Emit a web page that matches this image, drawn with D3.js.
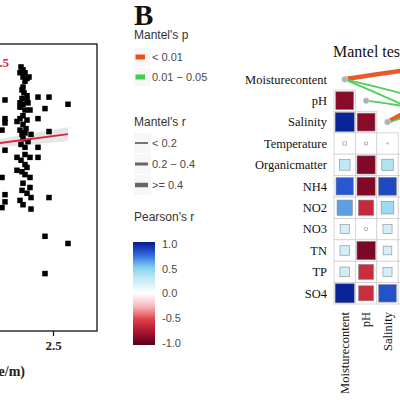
<!DOCTYPE html>
<html><head><meta charset="utf-8">
<script src="https://cdn.jsdelivr.net/npm/d3@7"></script>
<style>body{margin:0;background:#fff}svg{display:block}</style>
</head><body>
<svg id="c" width="400" height="400"></svg>
<script>
// ---------- Panel A data ----------
const scatterX = [2.34,2.35,2.335,2.36,2.35,2.37,2.38,2.36,2.35,2.345,2.355,2.37,2.345,2.37,2.335,2.35,2.375,2.335,2.36,2.385,2.35,2.37,2.35,2.335,2.36,2.345,2.35,2.375,2.36,2.36,2.385,2.36,2.345,2.36,2.385,2.35,2.385,2.345,2.37,2.39,2.35,2.39,2.32,2.32,
  2.26,2.425,2.48,2.46,2.575,2.26,2.26,2.32,2.425,2.245,2.48,2.39,2.26,2.425,2.425,2.245,2.48,2.26,2.26,2.245,2.46,2.575,2.46,
  2.335,2.365,2.34,2.34,2.37,2.335];
const scatterY = [0.92,0.91,0.90,0.90,0.885,0.88,0.885,0.87,0.85,0.84,0.83,0.82,0.81,0.805,0.795,0.79,0.795,0.78,0.77,0.77,0.75,0.735,0.72,0.70,0.69,0.685,0.67,0.66,0.64,0.615,0.605,0.58,0.555,0.545,0.535,0.515,0.50,0.49,0.48,0.465,0.44,0.425,0.605,0.56,
  0.805,0.815,0.815,0.775,0.79,0.74,0.725,0.73,0.74,0.70,0.695,0.685,0.63,0.64,0.605,0.535,0.465,0.475,0.45,0.43,0.33,0.305,0.20,
  0.74,0.705,0.65,0.595,0.57,0.455];
const fitX = [1.2, 2.575];
const fitY = [0.561, 0.686];
const bandX = [1.2, 1.9, 2.235, 2.4, 2.575];
const bandLo = [0.50, 0.60, 0.641, 0.650, 0.662];
const bandHi = [0.62, 0.64, 0.669, 0.690, 0.710];
const xTicks = [1.5, 2.0, 2.5];

// ---------- Panel B data ----------
const vars = ["Moisturecontent","pH","Salinity","Temperature","Organicmatter","NH4","NO2","NO3","TN","TP","SO4"];
const rMoisture = [-0.85, 0.97, -0.03, 0.30, 0.80, 0.62, 0.22, 0.24, 0.25, 0.97]; // rows pH..SO4
const rPH = [-0.85, -0.02, -0.88, -0.88, -0.62, -0.02, -0.90, -0.60, -0.60];       // rows Salinity..SO4
const rSalinity = [0.003, 0.35, 0.85, 0.42, 0.22, 0.20, 0.22, 0.82];              // rows Temperature..SO4
const groups = ["Group1","Group2","Group3","Group4"];
const mantelEnv = ["Moisturecontent","Moisturecontent","Moisturecontent","pH","Salinity","Salinity"];
const mantelSpec = ["Group1","Group3","Group4","Group3","Group1","Group2"];
const mantelP = ["< 0.01","0.01 - 0.05","0.01 - 0.05","0.01 - 0.05","< 0.01","0.01 - 0.05"];
const mantelR = [">= 0.4","< 0.2","< 0.2","< 0.2",">= 0.4","< 0.2"];
const pLevels = ["< 0.01","0.01 - 0.05"];
const pLabels = ["< 0.01","0.01 \u2212 0.05"];
const rLevels = ["< 0.2","0.2 - 0.4",">= 0.4"];
const rLabels = ["< 0.2","0.2 \u2212 0.4",">= 0.4"];
const cbTicks = [1.0, 0.5, 0.0, -0.5, -1.0];

const serif = "'Liberation Serif','Times New Roman',serif";
const sans = "'Liberation Sans',Arial,sans-serif";
const svg = d3.select("#c");

// ================= Panel A =================
const xA = d3.scaleLinear().domain([1.135, 2.72]).range([-220, 97]);
const yA = d3.scaleLinear().domain([0, 1]).range([331, 44]);
const gA = svg.append("g");
gA.append("path")
  .datum(bandX.map((x,i)=>({x, lo: bandLo[i], hi: bandHi[i]})))
  .attr("d", d3.area().x(d=>xA(d.x)).y0(d=>yA(d.lo)).y1(d=>yA(d.hi)))
  .attr("fill", "#dcdcdc").attr("opacity", 0.7);
const ps = 5.5;
gA.selectAll("rect.pt").data(scatterX.map((x,i)=>({x, y: scatterY[i]}))).join("rect")
  .attr("class","pt")
  .attr("x", d=>xA(d.x)-ps/2).attr("y", d=>yA(d.y)-ps/2)
  .attr("width", ps).attr("height", ps).attr("fill", "#000");
gA.append("path").datum(fitX.map((x,i)=>({x, y: fitY[i]})))
  .attr("d", d3.line().x(d=>xA(d.x)).y(d=>yA(d.y)))
  .attr("stroke", "#d6263f").attr("stroke-width", 2).attr("fill", "none");
gA.append("rect").attr("x", xA.range()[0]).attr("y", yA.range()[1])
  .attr("width", xA.range()[1]-xA.range()[0]).attr("height", yA.range()[0]-yA.range()[1])
  .attr("fill","none").attr("stroke","#111").attr("stroke-width",1.3);
const axA = gA.append("g").attr("transform", "translate(0,331)")
  .call(d3.axisBottom(xA).tickValues(xTicks).tickSize(5).tickPadding(5).tickFormat(d3.format(".1f")));
axA.select(".domain").remove();
axA.selectAll("line").attr("stroke","#111").attr("stroke-width",1.2);
axA.selectAll("text").attr("font-family", serif).attr("font-size", 13).attr("font-weight","bold").attr("fill","#222");
gA.append("text").attr("x", 25).attr("y", 376).attr("text-anchor","end")
  .attr("font-family", serif).attr("font-size", 14).attr("font-weight","bold").attr("fill","#222")
  .text("Distance (Scale/m)");
gA.append("text").attr("x", 9).attr("y", 67).attr("text-anchor","end")
  .attr("font-family", serif).attr("font-size", 13).attr("font-weight","bold").attr("fill","#d6263f")
  .text("r = 0.12, P = 0.5");

// ================= Panel B =================
svg.append("text").attr("x", 134).attr("y", 25).attr("font-family", serif)
  .attr("font-size", 29).attr("font-weight","bold").attr("fill","#111").text("B");

const color = d3.scaleLinear()
  .domain([-1,-0.75,-0.5,-0.25,0,0.25,0.5,0.75,1])
  .range(["#5a0020","#a8132c","#e0404a","#f7b9bd","#ffffff","#cdeef7","#86d2ec","#2f68e2","#061a8e"]);

const cell = 21.4;
const xB = d3.scaleBand().domain(vars).range([334, 334 + cell*vars.length]);
const yB = d3.scaleBand().domain(vars).range([68.6, 68.6 + cell*vars.length]);
const sizeS = d3.scaleSqrt().domain([0,1]).range([0, cell-2]);
const gB = svg.append("g");

// grid
const gridCells = [];
vars.forEach((rv, i) => vars.forEach((cv, j) => { if (i > j) gridCells.push({rv, cv}); }));
gB.selectAll("rect.grid").data(gridCells).join("rect").attr("class","grid")
  .attr("x", d=>xB(d.cv)).attr("y", d=>yB(d.rv)).attr("width", cell).attr("height", cell)
  .attr("fill","#fff").attr("stroke","#cfcfcf").attr("stroke-width",0.8);

// squares
const colData = [["Moisturecontent", rMoisture], ["pH", rPH], ["Salinity", rSalinity]];
const squares = [];
colData.forEach(([cv, arr]) => {
  const start = vars.indexOf(cv) + 1;
  arr.forEach((r, k) => squares.push({cv, rv: vars[start + k], r}));
});
gB.selectAll("rect.sq").data(squares).join("rect").attr("class","sq")
  .attr("x", d=>xB(d.cv)+cell/2-sizeS(Math.abs(d.r))/2)
  .attr("y", d=>yB(d.rv)+cell/2-sizeS(Math.abs(d.r))/2)
  .attr("width", d=>sizeS(Math.abs(d.r))).attr("height", d=>sizeS(Math.abs(d.r)))
  .attr("fill", d=>color(d.r)).attr("stroke","#8a8a8a").attr("stroke-width",0.6);

// labels
gB.selectAll("text.rl").data(vars).join("text").attr("class","rl")
  .attr("x", 327).attr("y", d=>yB(d)+cell/2).attr("dy","0.35em").attr("text-anchor","end")
  .attr("font-family", serif).attr("font-size", 12.5).attr("fill","#111").text(d=>d);
gB.selectAll("text.cl").data(vars.slice(0, -1)).join("text").attr("class","cl")
  .attr("transform", d=>`translate(${xB(d)+cell/2+4},${yB.range()[1]+8}) rotate(-90)`)
  .attr("text-anchor","end")
  .attr("font-family", serif).attr("font-size", 12.5).attr("fill","#111").text(d=>d);

// Mantel title
gB.append("text").attr("x", 333).attr("y", 57).attr("font-family", serif)
  .attr("font-size", 16).attr("fill","#111").text("Mantel test");

// links
const pColor = d3.scaleOrdinal().domain(pLevels).range(["#e5531a","#3fcf50"]);
const rWidth = d3.scaleOrdinal().domain(rLevels).range([1.8, 3, 4.5]);
const gY = d3.scalePoint().domain(groups).range([60, 165]);
const gX = 520;
const links = mantelEnv.map((e,i)=>({e, s: mantelSpec[i], p: mantelP[i], r: mantelR[i]}));
const curv = 0.03;
gB.selectAll("path.lk").data(links).join("path").attr("class","lk")
  .attr("d", d => {
    const x0 = xB(d.e)+cell/2, y0 = yB(d.e)+cell/2, x1 = gX, y1 = gY(d.s);
    const mx = (x0+x1)/2, my = (y0+y1)/2, dx = x1-x0, dy = y1-y0;
    const cx = mx + dy*curv, cy = my - dx*curv;
    return `M${x0},${y0}Q${cx},${cy} ${x1},${y1}`;
  })
  .attr("fill","none").attr("stroke", d=>pColor(d.p)).attr("stroke-width", d=>rWidth(d.r))
  .attr("stroke-linecap","round").attr("opacity",0.95);

// nodes
const nodeVars = [...new Set(mantelEnv)];
gB.selectAll("circle.nd").data(nodeVars).join("circle").attr("class","nd")
  .attr("cx", d=>xB(d)+cell/2).attr("cy", d=>yB(d)+cell/2).attr("r", 3)
  .attr("fill","#b0b0b0").attr("stroke","#d8d8d8").attr("stroke-width",0.8);

// ---------- Legends ----------
const lg = svg.append("g");
const legTitle = (y, t) => lg.append("text").attr("x", 134).attr("y", y).attr("font-family", sans)
  .attr("font-size", 12).attr("fill","#333").text(t);
legTitle(39, "Mantel's p");
pLevels.forEach((p, i) => {
  const cy = 57 + i*20;
  lg.append("rect").attr("x", 134).attr("y", cy-9).attr("width", 17).attr("height", 18).attr("fill","#f7f7f7");
  lg.append("rect").attr("x", 135.5).attr("y", cy-2.5).attr("width", 9.5).attr("height", 5).attr("fill", pColor(p));
  lg.append("text").attr("x", 152).attr("y", cy).attr("dy","0.35em").attr("font-family", sans)
    .attr("font-size", 11).attr("fill","#4a4a4a").text(pLabels[i]);
});
legTitle(126, "Mantel's r");
rLevels.forEach((r, i) => {
  const cy = 143 + i*21;
  lg.append("rect").attr("x", 134).attr("y", cy-10).attr("width", 17).attr("height", 20).attr("fill","#f7f7f7");
  lg.append("line").attr("x1", 135).attr("x2", 148).attr("y1", cy).attr("y2", cy)
    .attr("stroke","#666").attr("stroke-width", rWidth(r));
  lg.append("text").attr("x", 152).attr("y", cy).attr("dy","0.35em").attr("font-family", sans)
    .attr("font-size", 11).attr("fill","#4a4a4a").text(rLabels[i]);
});
legTitle(221, "Pearson's r");
const defs = svg.append("defs");
const grad = defs.append("linearGradient").attr("id","cbg").attr("x1",0).attr("x2",0).attr("y1",0).attr("y2",1);
d3.range(0, 1.0001, 0.05).forEach(t => grad.append("stop").attr("offset", t).attr("stop-color", color(1 - 2*t)));
const cbY = d3.scaleLinear().domain([1, -1]).range([244, 343]);
lg.append("rect").attr("x", 133).attr("y", 242).attr("width", 22).attr("height", 103).attr("fill","url(#cbg)");
lg.selectAll("text.cb").data(cbTicks).join("text").attr("class","cb")
  .attr("x", 162).attr("y", d=>cbY(d)).attr("dy","0.35em").attr("font-family", sans)
  .attr("font-size", 11).attr("fill","#4a4a4a").text(d=>d3.format(".1f")(d).replace("\u2212", "-"));
</script>
</body></html>
